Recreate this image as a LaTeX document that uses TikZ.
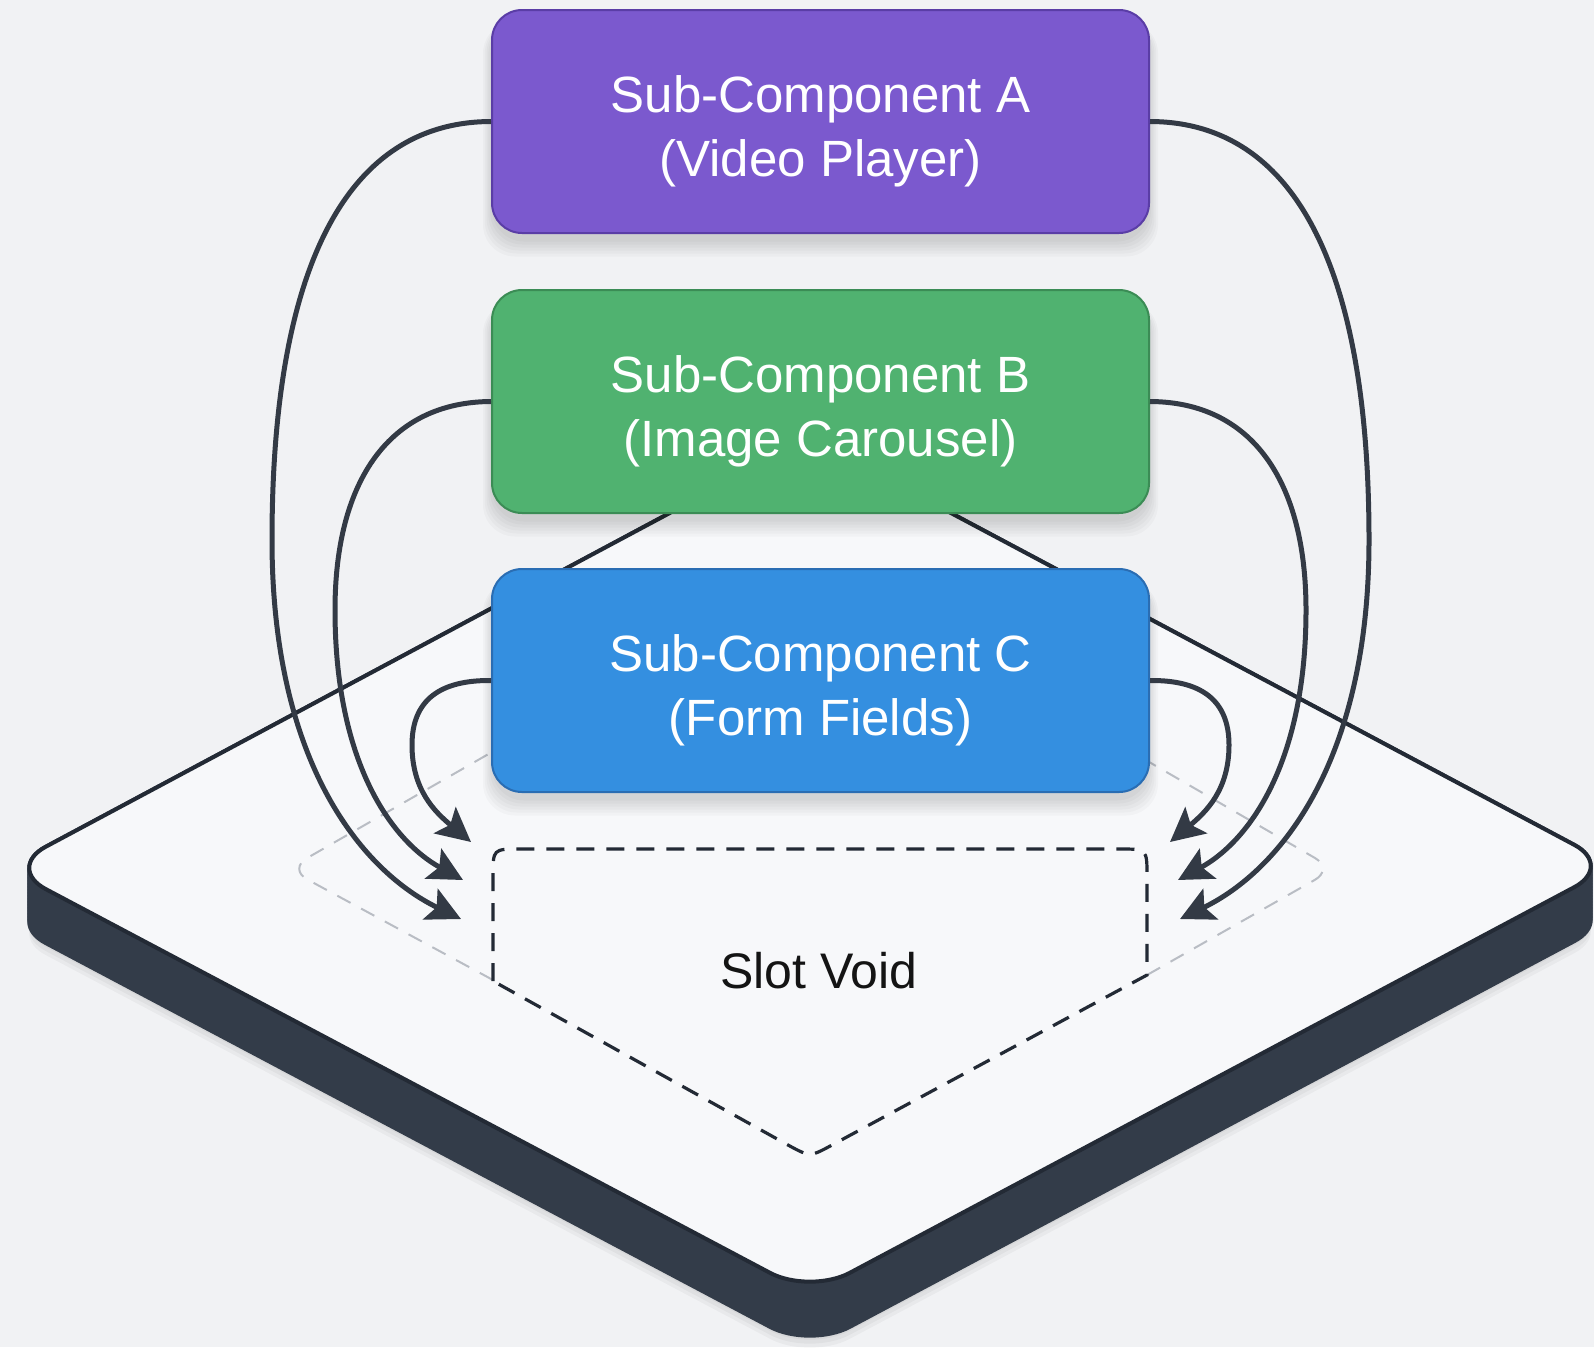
\documentclass[tikz,border=0pt]{standalone}
\usepackage{fontspec}
\setmainfont{Liberation Sans}
\usetikzlibrary{arrows.meta}

\definecolor{bgc}{HTML}{F1F2F4}
\definecolor{facec}{HTML}{F7F8FA}
\definecolor{edgec}{HTML}{232A35}
\definecolor{sidec}{HTML}{333C49}
\definecolor{linkc}{HTML}{333A45}
\definecolor{purplef}{HTML}{7B59CE}
\definecolor{purpled}{HTML}{5A3DA6}
\definecolor{greenf}{HTML}{50B270}
\definecolor{greend}{HTML}{3B8C55}
\definecolor{bluef}{HTML}{348FE0}
\definecolor{blued}{HTML}{2A6DB3}
\definecolor{ghostc}{HTML}{B9BDC4}

% outline of the slab's top face
\newcommand\slabpath{(408,653) -- (810,438) -- (1614,866) -- (810,1294) -- (6,868) -- cycle}
% raises the first text line so the two lines sit centred in a box
\newcommand\firstline{\rule{0pt}{56pt}}
% layered soft shadow below a component box centred at height #1
\newcommand\softshadow[1]{%
  \foreach \k in {0,3,...,15}{
    \fill[black, opacity=0.022, rounded corners=32pt]
      ({492-\k*0.6},{#1-100}) rectangle ({1149+\k*0.6},{#1+120+\k});
  }}

\begin{document}
\begin{tikzpicture}[x=1pt,y=-1pt,
  compbox/.style={draw, line width=2pt, rounded corners=30pt,
    minimum width=657pt, minimum height=223pt, align=center,
    text=white, font=\fontsize{51}{64}\selectfont},
  link/.style={draw=linkc, line width=5pt,
    -{Stealth[length=34pt,width=34pt,inset=7pt]}},
  slotline/.style={draw=edgec, line width=3.2pt, dash pattern=on 18pt off 12pt},
  ghostline/.style={draw=ghostc, line width=2pt, dash pattern=on 15pt off 12pt}]

\clip (0,0) rectangle (1594,1347);
\fill[bgc] (0,0) rectangle (1594,1347);

% faint shadow under the slab
\foreach \d in {58,62,66}{
  \begin{scope}[yshift=-\d pt]
    \fill[black, opacity=0.035, rounded corners=45pt] \slabpath;
  \end{scope}
}

% extruded dark side of the slab
\foreach \d in {0,3,...,54}{
  \begin{scope}[yshift=-\d pt]
    \filldraw[fill=sidec, draw=sidec, line width=4pt, rounded corners=45pt] \slabpath;
  \end{scope}
}

% top face of the slab
\filldraw[fill=facec, draw=edgec, line width=4pt, rounded corners=45pt] \slabpath;

% faint outline of the slot on the face
\draw[ghostline, rounded corners=22pt] (493,980) -- (288,869) -- (560,713);
\draw[ghostline, rounded corners=22pt] (1147,975) -- (1334,869) -- (1080,722);

% dashed slot outline
\draw[slotline] (493,981) -- (493,876) .. controls (493,849) .. (520,849)
  -- (1120,849) .. controls (1147,849) .. (1147,876) -- (1147,975)
  -- (832,1145) .. controls (810,1157) .. (788,1145) -- cycle;

\node[font=\fontsize{50}{60}\selectfont, text=black!92] (slotlabel) at (819,971) {Slot Void};

% sub-components
\softshadow{121.5}
\node[compbox, fill=purplef, draw=purpled] (A) at (820.5,121.5) {\firstline Sub-Component A\\(Video Player)};
\softshadow{401.5}
\node[compbox, fill=greenf, draw=greend] (B) at (820.5,401.5) {\firstline Sub-Component B\\(Image Carousel)};
\softshadow{680.5}
\node[compbox, fill=bluef, draw=blued] (C) at (820.5,680.5) {\firstline Sub-Component C\\(Form Fields)};

% arrow end points beside the slot
\coordinate (inAL) at (461,919);
\coordinate (inBL) at (463,880);
\coordinate (inCL) at (471,842);
\coordinate (inAR) at (1180,919);
\coordinate (inBR) at (1178,880);
\coordinate (inCR) at (1170,842);

% left-hand connectors
\draw[link] (A.west) .. controls (340,122) and (272,280) .. (272,540)
  .. controls (272,760) and (360,870) .. (inAL);
\draw[link] (B.west) .. controls (390,402) and (335,480) .. (335,610)
  .. controls (335,760) and (390,840) .. (inBL);
\draw[link] (C.west) .. controls (440,680) and (412,700) .. (412,745)
  .. controls (412,790) and (435,812) .. (inCL);

% right-hand connectors
\draw[link] (A.east) .. controls (1301,122) and (1369,280) .. (1369,540)
  .. controls (1369,760) and (1281,870) .. (inAR);
\draw[link] (B.east) .. controls (1251,402) and (1306,480) .. (1306,610)
  .. controls (1306,760) and (1251,840) .. (inBR);
\draw[link] (C.east) .. controls (1201,680) and (1229,700) .. (1229,745)
  .. controls (1229,790) and (1206,812) .. (inCR);

\end{tikzpicture}
\end{document}
